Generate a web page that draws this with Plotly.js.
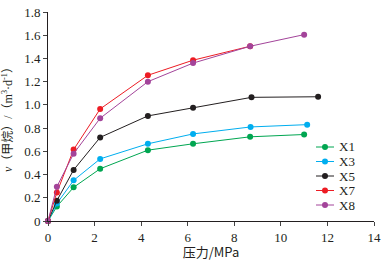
<!DOCTYPE html>
<html><head><meta charset="utf-8">
<script src="https://cdn.plot.ly/plotly-3.0.1.min.js"></script>
<style>body{margin:0;background:#fff}#c{width:387px;height:261px}</style>
</head><body><div id="c"></div>
<script>
const names = ['X1','X3','X5','X7','X8'];
const colors = ['#00A651','#00AEEF','#231F20','#ED1C24','#A3449A'];
const pX1 = [0,0.38,1.1,2.24,4.29,6.23,8.68,11.0];
const vX1 = [0,0.125,0.29,0.45,0.61,0.665,0.725,0.745];
const pX3 = [0,0.38,1.1,2.24,4.29,6.23,8.7,11.13];
const vX3 = [0,0.15,0.35,0.535,0.665,0.75,0.81,0.83];
const pX5 = [0,0.38,1.1,2.24,4.29,6.23,8.74,11.6];
const vX5 = [0,0.175,0.44,0.72,0.905,0.975,1.065,1.07];
const pX7 = [0,0.38,1.1,2.24,4.29,6.23,8.68];
const vX7 = [0,0.245,0.615,0.965,1.255,1.385,1.505];
const pX8 = [0,0.38,1.1,2.24,4.29,6.23,8.68,11.0];
const vX8 = [0,0.295,0.58,0.885,1.2,1.36,1.505,1.605];
const xs=[pX1,pX3,pX5,pX7,pX8], ys=[vX1,vX3,vX5,vX7,vX8];
const yTicks=[0,0.2,0.4,0.6,0.8,1.0,1.2,1.4,1.6,1.8];
const yTickText=['0','0.2','0.4','0.6','0.8','1.0','1.2','1.4','1.6','1.8'];
const xTicks=[0,2,4,6,8,10,12,14];
const traces = names.map((n,i)=>({x:xs[i],y:ys[i],name:n,type:'scatter',mode:'lines+markers',
  line:{color:colors[i],width:1},marker:{color:colors[i],size:6},cliponaxis:false,showlegend:false}));
const font = {family:'"Liberation Serif", "Times New Roman", serif', color:'#231F20', size:13};
// manual legend (pixel geometry of plot area: left 48, width 326, bottom 221, height 209)
const L=48,W=326,B=221,H=209;
const px=v=>(v-L)/W, py=v=>(B-v)/H;
const shapes=[], annotations=[];
names.forEach((n,i)=>{
  const yy=147+i*14.5;
  shapes.push({type:'line',xref:'paper',yref:'paper',x0:px(316),x1:px(334),y0:py(yy),y1:py(yy),line:{color:colors[i],width:1}});
  shapes.push({type:'circle',xref:'paper',yref:'paper',x0:px(322),x1:px(328),y0:py(yy-3),y1:py(yy+3),fillcolor:colors[i],line:{width:0}});
  annotations.push({xref:'paper',yref:'paper',x:px(337),y:py(yy),xanchor:'left',yanchor:'middle',text:n,showarrow:false,font:{size:13}});
});
Plotly.newPlot('c', traces, {
  width:387,height:261,margin:{l:48,r:13,t:12,b:40},
  paper_bgcolor:'#fff',plot_bgcolor:'#fff',font:font,showlegend:false,shapes:shapes,annotations:annotations,
  xaxis:{range:[0,14],tickvals:xTicks,ticks:'outside',ticklen:4,showgrid:false,zeroline:false,showline:true,linecolor:'#231F20',linewidth:1,
    title:{text:'压力/MPa',font:{size:13,family:'"Noto Sans CJK SC", "Liberation Serif", serif'},standoff:2}},
  yaxis:{range:[0,1.8],tickvals:yTicks,ticktext:yTickText,ticks:'outside',ticklen:4,showgrid:false,zeroline:false,showline:true,linecolor:'#231F20',linewidth:1,
    title:{text:'<i>v</i>（甲烷）/（m<sup>3</sup>·d<sup>-1</sup>）',font:{size:12,family:'"Liberation Serif", "Noto Sans CJK SC", serif'},standoff:8}}
},{displayModeBar:false,staticPlot:true});
</script></body></html>
